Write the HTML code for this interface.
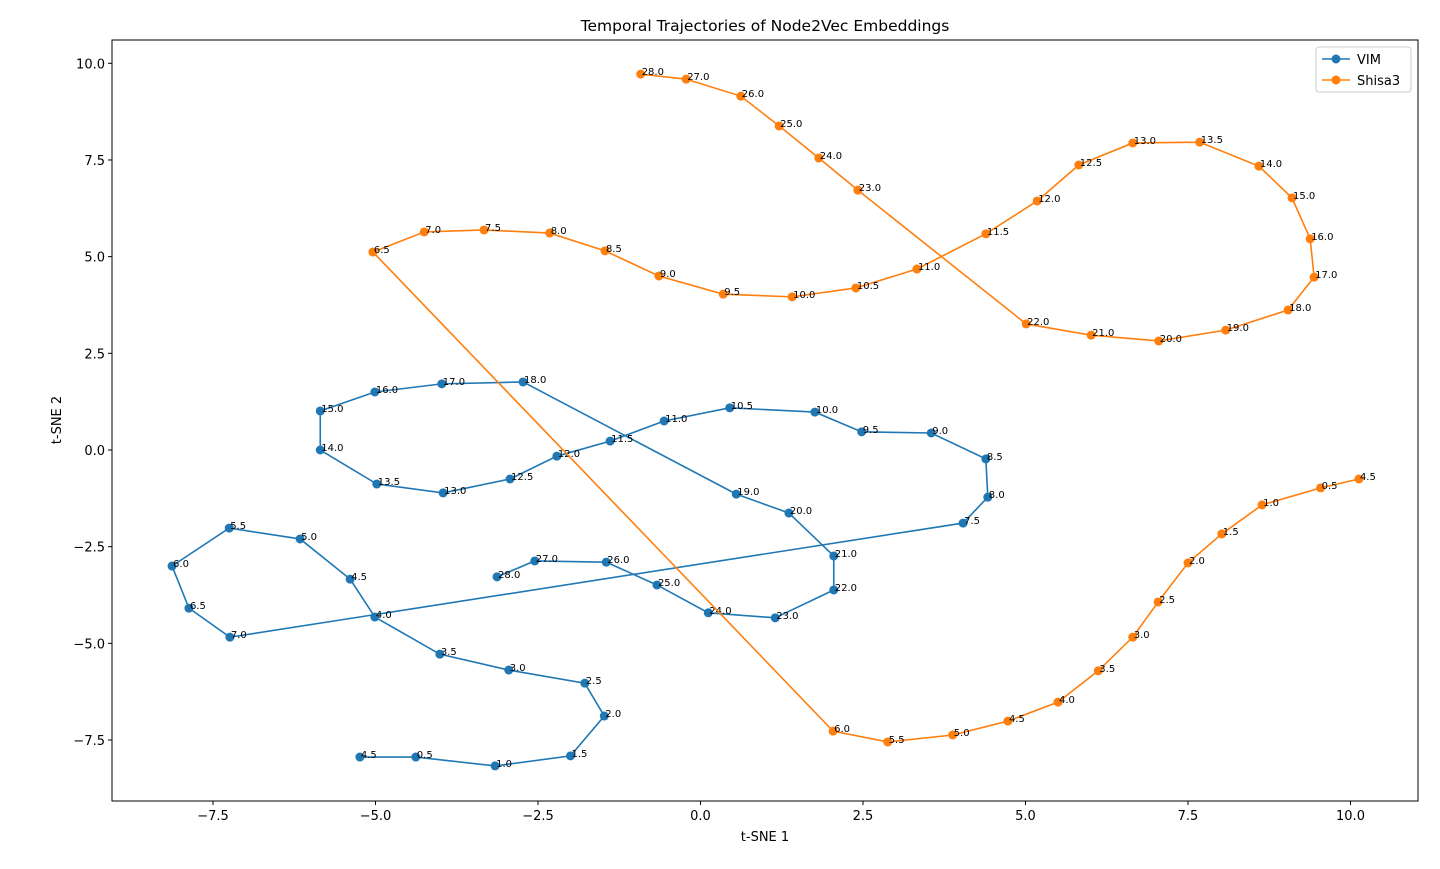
<!DOCTYPE html>
<html><head><meta charset="utf-8"><style>
body{margin:0;background:#fff;font-family:"Liberation Sans","DejaVu Sans",sans-serif}
svg text{font-family:"DejaVu Sans","Liberation Sans",sans-serif}
</style></head><body>
<svg id="chart" width="1440" height="864" xmlns="http://www.w3.org/2000/svg"></svg>
<script>
const vimLabels=["4.5","0.5","1.0","1.5","2.0","2.5","3.0","3.5","4.0","4.5","5.0","5.5","6.0","6.5","7.0","7.5","8.0","8.5","9.0","9.5","10.0","10.5","11.0","11.5","12.0","12.5","13.0","13.5","14.0","15.0","16.0","17.0","18.0","19.0","20.0","21.0","22.0","23.0","24.0","25.0","26.0","27.0","28.0"];
const vimX=[-5.24,-4.38,-3.16,-2.00,-1.48,-1.78,-2.95,-4.01,-5.01,-5.39,-6.16,-7.25,-8.13,-7.87,-7.24,4.04,4.42,4.39,3.55,2.48,1.76,0.45,-0.56,-1.39,-2.21,-2.93,-3.96,-4.98,-5.85,-5.85,-5.01,-3.98,-2.73,0.55,1.36,2.05,2.05,1.15,0.12,-0.67,-1.45,-2.55,-3.13];
const vimY=[-7.94,-7.94,-8.17,-7.91,-6.88,-6.03,-5.69,-5.28,-4.32,-3.34,-2.30,-2.02,-3.00,-4.09,-4.84,-1.89,-1.22,-0.23,0.44,0.47,0.98,1.09,0.75,0.23,-0.16,-0.75,-1.11,-0.88,0,1.01,1.50,1.71,1.76,-1.14,-1.63,-2.74,-3.62,-4.34,-4.21,-3.49,-2.90,-2.87,-3.28];
const shLabels=["4.5","0.5","1.0","1.5","2.0","2.5","3.0","3.5","4.0","4.5","5.0","5.5","6.0","6.5","7.0","7.5","8.0","8.5","9.0","9.5","10.0","10.5","11.0","11.5","12.0","12.5","13.0","13.5","14.0","15.0","16.0","17.0","18.0","19.0","20.0","21.0","22.0","23.0","24.0","25.0","26.0","27.0","28.0"];
const shX=[10.13,9.54,8.64,8.02,7.50,7.04,6.65,6.12,5.50,4.73,3.88,2.88,2.04,-5.04,-4.25,-3.33,-2.32,-1.47,-0.64,0.35,1.41,2.39,3.33,4.39,5.18,5.82,6.65,7.68,8.59,9.10,9.38,9.44,9.04,8.08,7.05,6.01,5.01,2.42,1.82,1.21,0.62,-0.22,-0.92];
const shY=[-0.75,-0.98,-1.42,-2.17,-2.92,-3.93,-4.84,-5.71,-6.52,-7.01,-7.37,-7.55,-7.27,5.12,5.64,5.69,5.61,5.15,4.50,4.03,3.96,4.19,4.68,5.59,6.44,7.37,7.94,7.96,7.34,6.52,5.46,4.47,3.62,3.10,2.82,2.97,3.26,6.72,7.55,8.38,9.15,9.59,9.72];
const xTicks=[-7.5,-5.0,-2.5,0.0,2.5,5.0,7.5,10.0];
const yTicks=[-7.5,-5.0,-2.5,0.0,2.5,5.0,7.5,10.0];
const L=112,R=1418,T=40,B=801;
const sx=v=>700.5+v*65, sy=v=>450-v*38.67;
const svg=document.getElementById('chart'),NS="http://www.w3.org/2000/svg";
function mk(t,a,p){const e=document.createElementNS(NS,t);for(const k in a)e.setAttribute(k,a[k]);(p||svg).appendChild(e);return e;}
const fmt=v=>(v<0?"\u2212":"")+Math.abs(v).toFixed(1);
const xg=mk('g',{});


xTicks.forEach(v=>{mk('line',{x1:sx(v),x2:sx(v),y1:B,y2:B+4,stroke:'#000'},xg);const t=mk('text',{x:sx(v),y:B+19,'font-size':13,'text-anchor':'middle'},xg);t.textContent=fmt(v);});
const yg=mk('g',{});


yTicks.forEach(v=>{mk('line',{x1:L-4,x2:L,y1:sy(v),y2:sy(v),stroke:'#000'},yg);const t=mk('text',{x:L-7,y:sy(v)+5,'font-size':13,'text-anchor':'end'},yg);t.textContent=fmt(v);});
function series(xs,ys,labs,color,name){
 const g=mk('g',{});
 
 
 mk('polyline',{points:xs.map((x,i)=>sx(x)+','+sy(ys[i])).join(' '),fill:'none',stroke:color,'stroke-width':1.6},g);
 xs.forEach((x,i)=>{const c=mk('circle',{cx:sx(x),cy:sy(ys[i]),r:4.5,fill:color},g);
  
  
  const t=mk('text',{x:sx(x)+1,y:sy(ys[i])+1,'font-size':10},g);t.textContent=labs[i];});
}
series(vimX,vimY,vimLabels,'#1f77b4','vim');
series(shX,shY,shLabels,'#ff7f0e','shisa3');
mk('rect',{x:L,y:T,width:R-L,height:B-T,fill:'none',stroke:'#000','stroke-width':1});
let t=mk('text',{x:765,y:31,'font-size':15.5,'text-anchor':'middle'});t.textContent='Temporal Trajectories of Node2Vec Embeddings';

t=mk('text',{x:765,y:841,'font-size':13,'text-anchor':'middle'});t.textContent='t-SNE 1';

t=mk('text',{x:61,y:420,'font-size':13,'text-anchor':'middle',transform:'rotate(-90 61 420)'});t.textContent='t-SNE 2';

const lg=mk('g',{});


mk('rect',{x:1316,y:47,width:95,height:45,rx:3,fill:'#fff',stroke:'#ccc'},lg);
[['VIM','#1f77b4',59],['Shisa3','#ff7f0e',80]].forEach(([n,c,y])=>{mk('line',{x1:1322,x2:1350,y1:y,y2:y,stroke:c,'stroke-width':1.6},lg);mk('circle',{cx:1336,cy:y,r:4.5,fill:c},lg);const tt=mk('text',{x:1357,y:y+5,'font-size':13},lg);tt.textContent=n;});
</script>
</body></html>
